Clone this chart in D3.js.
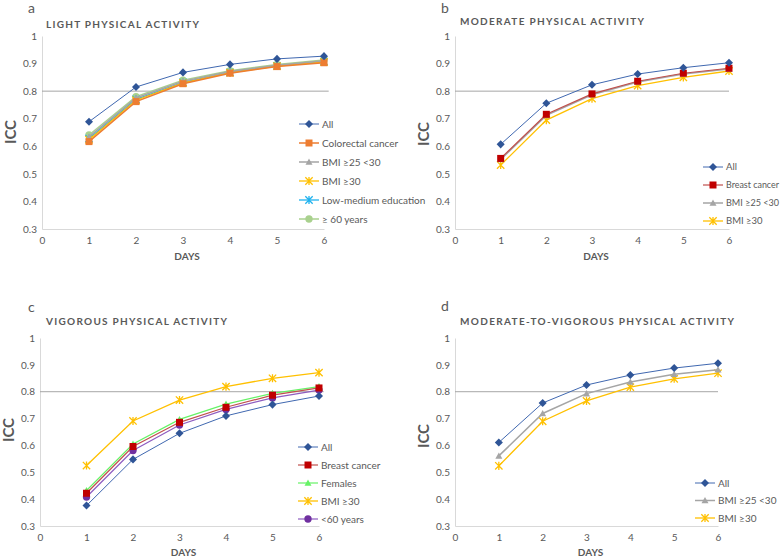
<!DOCTYPE html>
<html>
<head>
<meta charset="utf-8">
<script src="https://cdn.jsdelivr.net/npm/d3@7/dist/d3.min.js"></script>
<style>
  html, body { margin: 0; padding: 0; background: #fff; }
  svg { display: block; font-family: Lato, "Open Sans", "Liberation Sans", sans-serif; }
</style>
</head>
<body>
<svg id="chart" width="782" height="558"></svg>
<script>
// ---------- data ----------
const days = [1, 2, 3, 4, 5, 6];
const xTicks = [0, 1, 2, 3, 4, 5, 6];
const yTicks = [0.3, 0.4, 0.5, 0.6, 0.7, 0.8, 0.9, 1];
const threshold = 0.8;

const panelLetters = ["a", "b", "c", "d"];
const panelTitles = [
  "LIGHT PHYSICAL ACTIVITY",
  "MODERATE PHYSICAL ACTIVITY",
  "VIGOROUS PHYSICAL ACTIVITY",
  "MODERATE-TO-VIGOROUS PHYSICAL ACTIVITY"
];

// a – light
const lightNames = ["All", "Colorectal cancer", "BMI \u226525 <30", "BMI \u226530", "Low-medium education", "\u2265 60 years"];
const lightAll = [0.689, 0.815, 0.868, 0.897, 0.917, 0.927];
const lightColorectal = [0.617, 0.762, 0.827, 0.865, 0.889, 0.903];
const lightBmi25 = [0.634, 0.775, 0.836, 0.871, 0.894, 0.910];
const lightBmi30 = [0.624, 0.767, 0.830, 0.867, 0.891, 0.906];
const lightLowEdu = [0.628, 0.770, 0.832, 0.868, 0.892, 0.907];
const light60 = [0.641, 0.780, 0.840, 0.874, 0.897, 0.913];

// b – moderate
const modNames = ["All", "Breast cancer", "BMI \u226525 <30", "BMI \u226530"];
const modAll = [0.607, 0.756, 0.823, 0.862, 0.885, 0.903];
const modBreast = [0.556, 0.716, 0.790, 0.836, 0.865, 0.883];
const modBmi25 = [0.552, 0.712, 0.787, 0.833, 0.862, 0.880];
const modBmi30 = [0.532, 0.695, 0.773, 0.820, 0.850, 0.873];

// c – vigorous
const vigNames = ["All", "Breast  cancer", "Females", "BMI \u226530", "<60 years"];
const vigAll = [0.376, 0.548, 0.645, 0.710, 0.752, 0.784];
const vigBreast = [0.422, 0.596, 0.686, 0.742, 0.787, 0.814];
const vigFemales = [0.432, 0.605, 0.697, 0.754, 0.794, 0.819];
const vigBmi30 = [0.525, 0.691, 0.769, 0.819, 0.850, 0.871];
const vigUnder60 = [0.408, 0.581, 0.676, 0.734, 0.777, 0.806];

// d – moderate-to-vigorous
const mvpaNames = ["All", "BMI \u226525 <30", "BMI \u226530"];
const mvpaAll = [0.611, 0.758, 0.825, 0.862, 0.888, 0.906];
const mvpaBmi25 = [0.561, 0.719, 0.793, 0.836, 0.865, 0.882];
const mvpaBmi30 = [0.524, 0.690, 0.766, 0.817, 0.848, 0.869];

// ---------- styles ----------
const ST = {
  all:      { line: "#4068B0", fill: "#2F5597", marker: "diamond", lw: 1 },
  orange:   { line: "#ED7D31", fill: "#ED7D31", marker: "square", lw: 1.5 },
  gray:     { line: "#A5A5A5", fill: "#A5A5A5", marker: "triangle", lw: 1.5 },
  yellow:   { line: "#FFC000", fill: "#FFC000", marker: "star", lw: 1.3 },
  ltblue:   { line: "#1FB2EE", fill: "#1FB2EE", marker: "star", lw: 1.3 },
  green:    { line: "#A9D18E", fill: "#A9D18E", marker: "circle", lw: 1.5 },
  red:      { line: "#C0504D", fill: "#C00000", marker: "square", lw: 1.2 },
  ltgreen:  { line: "#66F266", fill: "#66F266", marker: "triangle", lw: 1.2 },
  purple:   { line: "#8E5CC0", fill: "#7030A0", marker: "circle", lw: 1.2 }
};

const panels = [
  { letter: panelLetters[0], title: panelTitles[0],
    series: [lightAll, lightColorectal, lightBmi25, lightBmi30, lightLowEdu, light60],
    names: lightNames, styles: [ST.all, ST.orange, ST.gray, ST.yellow, ST.ltblue, ST.green],
    box: { x0: 42, x6: 324, yTop: 36, yBot: 229 }, refEnd: 6.1,
    lx: 299, ly: 124, ldy: 19, lfs: 10, titleX: 46, titleY: 28, titleW: 153, letterX: 28, letterY: 13,
    iccX: 11, iccY: 132, daysY: 260 },
  { letter: panelLetters[1], title: panelTitles[1],
    series: [modAll, modBreast, modBmi25, modBmi30],
    names: modNames, styles: [ST.all, ST.red, ST.gray, ST.yellow],
    box: { x0: 455, x6: 729, yTop: 36, yBot: 229 }, refEnd: 6.0,
    lx: 703, ly: 167, ldy: 18, lfs: 9.5, titleX: 460, titleY: 25, titleW: 184, letterX: 441, letterY: 13,
    iccX: 424, iccY: 134, daysY: 260 },
  { letter: panelLetters[2], title: panelTitles[2],
    series: [vigAll, vigBreast, vigFemales, vigBmi30, vigUnder60],
    names: vigNames, styles: [ST.all, ST.red, ST.ltgreen, ST.yellow, ST.purple],
    box: { x0: 40, x6: 319, yTop: 338, yBot: 526 }, refEnd: 6.1,
    lx: 298, ly: 447, ldy: 18, lfs: 10, titleX: 46, titleY: 325, titleW: 181, letterX: 28, letterY: 312,
    iccX: 9, iccY: 430, daysY: 556 },
  { letter: panelLetters[3], title: panelTitles[3],
    series: [mvpaAll, mvpaBmi25, mvpaBmi30],
    names: mvpaNames, styles: [ST.all, ST.gray, ST.yellow],
    box: { x0: 455, x6: 718, yTop: 338, yBot: 526 }, refEnd: 6.0,
    lx: 695, ly: 483, ldy: 17.5, lfs: 10, titleX: 460, titleY: 325, titleW: 274, letterX: 441, letterY: 311,
    iccX: 424, iccY: 436, daysY: 556 }
];

const svg = d3.select("#chart");
const TXT = "#595959";

function drawMarker(g, type, cx, cy, st, s) {
  const r = s / 2;
  if (type === "star") {
    const q = r * 1.05;
    const p = d3.path();
    p.moveTo(cx - q, cy - q); p.lineTo(cx + q, cy + q);
    p.moveTo(cx - q, cy + q); p.lineTo(cx + q, cy - q);
    p.moveTo(cx, cy - q * 1.1); p.lineTo(cx, cy + q * 1.1);
    g.append("path").attr("d", p.toString()).attr("stroke", st.fill)
      .attr("stroke-width", 1.3).attr("fill", "none");
    return;
  }
  const p = d3.path();
  if (type === "diamond") {
    const d = r * 1.15;
    p.moveTo(cx, cy - d); p.lineTo(cx + d, cy); p.lineTo(cx, cy + d); p.lineTo(cx - d, cy); p.closePath();
  } else if (type === "square") {
    p.rect(cx - r, cy - r, 2 * r, 2 * r);
  } else if (type === "triangle") {
    const h = r * 1.0;
    p.moveTo(cx, cy - h); p.lineTo(cx + r, cy + h * 0.8); p.lineTo(cx - r, cy + h * 0.8); p.closePath();
  } else {
    p.arc(cx, cy, r * 1.05, 0, 2 * Math.PI);
  }
  g.append("path").attr("d", p.toString()).attr("fill", st.fill);
}

panels.forEach(P => {
  const b = P.box;
  const x = d3.scaleLinear().domain([0, 6]).range([b.x0, b.x6]);
  const y = d3.scaleLinear().domain([0.3, 1]).range([b.yBot, b.yTop]);
  const g = svg.append("g");

  // axes
  const ya = d3.axisLeft(y).tickValues(yTicks).tickSize(0).tickPadding(5)
    .tickFormat(d => d3.format("~g")(d));
  const yG = g.append("g").attr("transform", `translate(${b.x0},0)`).call(ya);
  const xa = d3.axisBottom(x).tickValues(xTicks).tickSize(0).tickPadding(8)
    .tickFormat(d3.format("d"));
  const xG = g.append("g").attr("transform", `translate(0,${b.yBot})`).call(xa);
  [yG, xG].forEach(a => {
    a.select(".domain").attr("stroke", "#D9D9D9").attr("stroke-width", 1);
    a.selectAll("text").attr("fill", TXT).style("font-size", "10px")
      .style("font-family", "Lato, sans-serif");
  });

  // threshold line
  g.append("line")
    .attr("x1", x(0)).attr("x2", x(P.refEnd))
    .attr("y1", y(threshold)).attr("y2", y(threshold))
    .attr("stroke", "#A6A6A6").attr("stroke-width", 1);

  // series, drawn back to front
  const line = d3.line().x((d, i) => x(days[i])).y(d => y(d));
  const order = P.series.map((s, i) => i).reverse();
  order.forEach(i => {
    const st = P.styles[i];
    const vals = P.series[i];
    g.append("path").datum(vals).attr("d", line)
      .attr("fill", "none").attr("stroke", st.line).attr("stroke-width", st.lw);
    const mg = g.append("g");
    vals.forEach((v, k) => drawMarker(mg, st.marker, x(days[k]), y(v), st, 7));
  });

  // legend
  P.names.forEach((n, i) => {
    const st = P.styles[i];
    const ly = P.ly + i * P.ldy;
    g.append("line").attr("x1", P.lx).attr("x2", P.lx + 20)
      .attr("y1", ly).attr("y2", ly).attr("stroke", st.line).attr("stroke-width", st.lw);
    drawMarker(g, st.marker, P.lx + 10, ly, st, 7);
    const t = g.append("text").attr("x", P.lx + 23).attr("y", ly).attr("dy", "0.35em")
      .attr("fill", TXT).style("font-size", P.lfs + "px").text(n);
    const avail = 779 - (P.lx + 23);
    const w = t.node().getComputedTextLength();
    if (w > avail) t.attr("textLength", avail).attr("lengthAdjust", "spacingAndGlyphs");
  });

  // title and letter
  g.append("text").attr("x", P.titleX).attr("y", P.titleY)
    .attr("fill", TXT).style("font-size", "10px").style("font-weight", "bold")
    .attr("textLength", P.titleW).attr("lengthAdjust", "spacing")
    .text(P.title);
  g.append("text").attr("x", P.letterX).attr("y", P.letterY)
    .attr("fill", TXT).style("font-size", "14px").text(P.letter);

  // axis titles
  g.append("text").attr("transform", `translate(${P.iccX},${P.iccY}) rotate(-90)`)
    .attr("text-anchor", "middle").attr("dy", "0.35em")
    .attr("fill", TXT).style("font-size", "15px").style("font-weight", "bold").text("ICC");
  g.append("text").attr("x", (b.x0 + b.x6) / 2 + 4).attr("y", P.daysY)
    .attr("text-anchor", "middle")
    .attr("fill", TXT).style("font-size", "10px").style("font-weight", "bold").text("DAYS");
});
</script>
</body>
</html>
